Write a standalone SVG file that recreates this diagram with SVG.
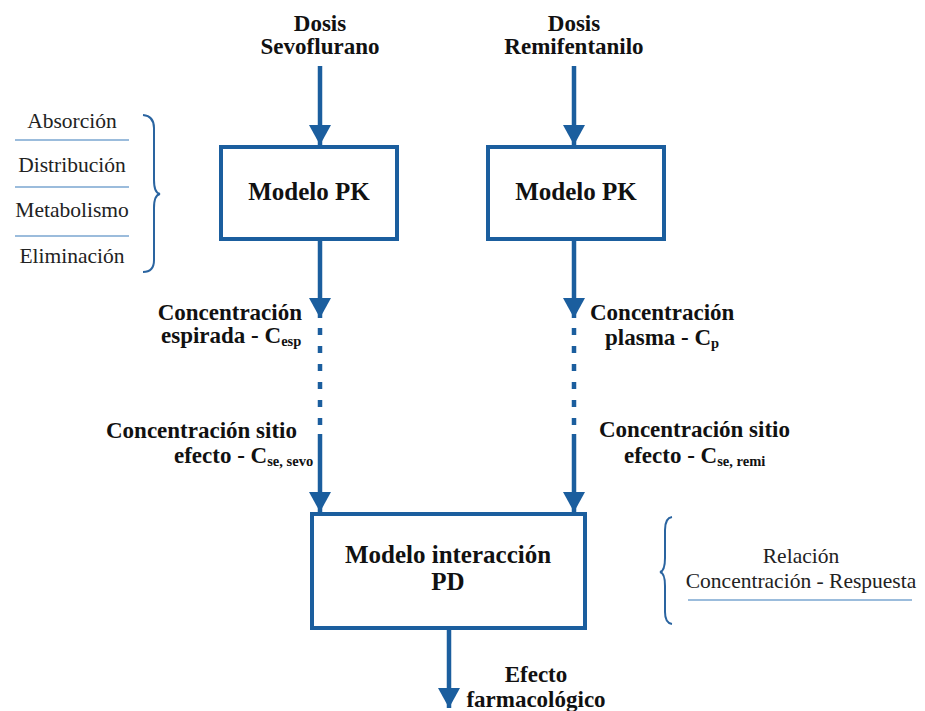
<svg xmlns="http://www.w3.org/2000/svg" width="925" height="711" viewBox="0 0 925 711">
  <defs>
    <marker id="arrow" viewBox="0 0 20 22" refX="20" refY="11" markerWidth="20" markerHeight="22" markerUnits="userSpaceOnUse" orient="auto">
      <path d="M0,0 L20,11 L0,22 z" fill="#1b5e9e"/>
    </marker>
    <style>
      .box { fill: #ffffff; stroke: #1b5e9e; stroke-width: 4; }
      .conn { stroke: #1b5e9e; stroke-width: 4.5; fill: none; }
      .dash { stroke: #1b5e9e; stroke-width: 4.5; fill: none; stroke-dasharray: 7 11; }
      .brace { stroke: #2a64a0; stroke-width: 2; fill: none; }
      .rule { stroke: #7aa6d0; stroke-width: 1.6; }
      .b { font-family: "Liberation Serif", "Times New Roman", serif; font-weight: bold; font-size: 23px; fill: #111111; }
      .title { font-family: "Liberation Serif", "Times New Roman", serif; font-weight: bold; font-size: 25px; fill: #111111; text-anchor: middle; }
      .r { font-family: "Liberation Serif", "Times New Roman", serif; font-size: 21.5px; fill: #222222; text-anchor: middle; }
      .sub { font-size: 14.5px; }
      .mid { text-anchor: middle; }
      .end { text-anchor: end; }
    </style>
  </defs>

  <rect width="925" height="711" fill="#ffffff"/>

  <!-- input labels -->
  <g id="dosis-sevo">
    <text class="b mid" x="320" y="31">Dosis</text>
    <text class="b mid" x="320" y="54">Sevoflurano</text>
  </g>
  <g id="dosis-remi">
    <text class="b mid" x="574" y="31">Dosis</text>
    <text class="b mid" x="574" y="54">Remifentanilo</text>
  </g>

  <!-- PK models -->
  <g id="pk-sevo">
    <rect class="box" x="221" y="147" width="176" height="92"/>
    <text class="title" x="309" y="200">Modelo PK</text>
  </g>
  <g id="pk-remi">
    <rect class="box" x="488" y="147" width="176" height="92"/>
    <text class="title" x="576" y="200">Modelo PK</text>
  </g>

  <!-- PD interaction model -->
  <g id="pd">
    <rect class="box" x="312" y="514" width="273" height="114"/>
    <text class="title" x="448" y="563">Modelo interacción</text>
    <text class="title" x="448" y="590">PD</text>
  </g>

  <!-- concentration labels -->
  <g id="label-cesp">
    <text class="b end" x="302" y="320">Concentración</text>
    <text class="b" x="161" y="343">espirada - C<tspan class="sub" dy="3">esp</tspan></text>
  </g>
  <g id="label-cse-sevo">
    <text class="b" x="106" y="438">Concentración sitio</text>
    <text class="b" x="174" y="463">efecto - C<tspan class="sub" dy="3">se, sevo</tspan></text>
  </g>
  <g id="label-cp">
    <text class="b" x="590" y="320">Concentración</text>
    <text class="b" x="605" y="345">plasma - C<tspan class="sub" dy="3">p</tspan></text>
  </g>
  <g id="label-cse-remi">
    <text class="b" x="599" y="437">Concentración sitio</text>
    <text class="b" x="624" y="463">efecto - C<tspan class="sub" dy="3">se, remi</tspan></text>
  </g>
  <g id="label-efecto">
    <text class="b mid" x="536" y="682">Efecto</text>
    <text class="b mid" x="536" y="707">farmacológico</text>
  </g>

  <!-- PK processes list -->
  <g id="pk-processes">
    <text class="r" x="72" y="128">Absorción</text>
    <line class="rule" x1="15" y1="140" x2="129" y2="140"/>
    <text class="r" x="72" y="172">Distribución</text>
    <line class="rule" x1="15" y1="187" x2="129" y2="187"/>
    <text class="r" x="72" y="217">Metabolismo</text>
    <line class="rule" x1="15" y1="236" x2="129" y2="236"/>
    <text class="r" x="72" y="263">Eliminación</text>
    <path class="brace" d="M143,115 Q154,116 154,128 L154,180 Q154,193 160,194 Q154,195 154,208 L154,260 Q154,272 143,272"/>
  </g>

  <!-- PD relation note -->
  <g id="pd-relation">
    <path class="brace" d="M672,517 Q665,518 665,530 L665,558 Q665,571 660,572 Q665,573 665,586 L665,612 Q665,623 672,624"/>
    <text class="r" x="801" y="563">Relación</text>
    <text class="r" x="801" y="588">Concentración - Respuesta</text>
    <line class="rule" x1="688" y1="600" x2="912" y2="600"/>
  </g>

  <!-- connectors -->
  <g id="connectors">
    <line class="conn" x1="320" y1="66" x2="320" y2="145" marker-end="url(#arrow)"/>
    <line class="conn" x1="574" y1="66" x2="574" y2="145" marker-end="url(#arrow)"/>

    <line class="conn" x1="320" y1="241" x2="320" y2="318" marker-end="url(#arrow)"/>
    <line class="dash" x1="320" y1="328" x2="320" y2="428"/>
    <line class="conn" x1="320" y1="434" x2="320" y2="512" marker-end="url(#arrow)"/>

    <line class="conn" x1="574" y1="241" x2="574" y2="318" marker-end="url(#arrow)"/>
    <line class="dash" x1="574" y1="328" x2="574" y2="428"/>
    <line class="conn" x1="574" y1="434" x2="574" y2="512" marker-end="url(#arrow)"/>

    <line class="conn" x1="449" y1="630" x2="449" y2="708" marker-end="url(#arrow)"/>
  </g>
</svg>
